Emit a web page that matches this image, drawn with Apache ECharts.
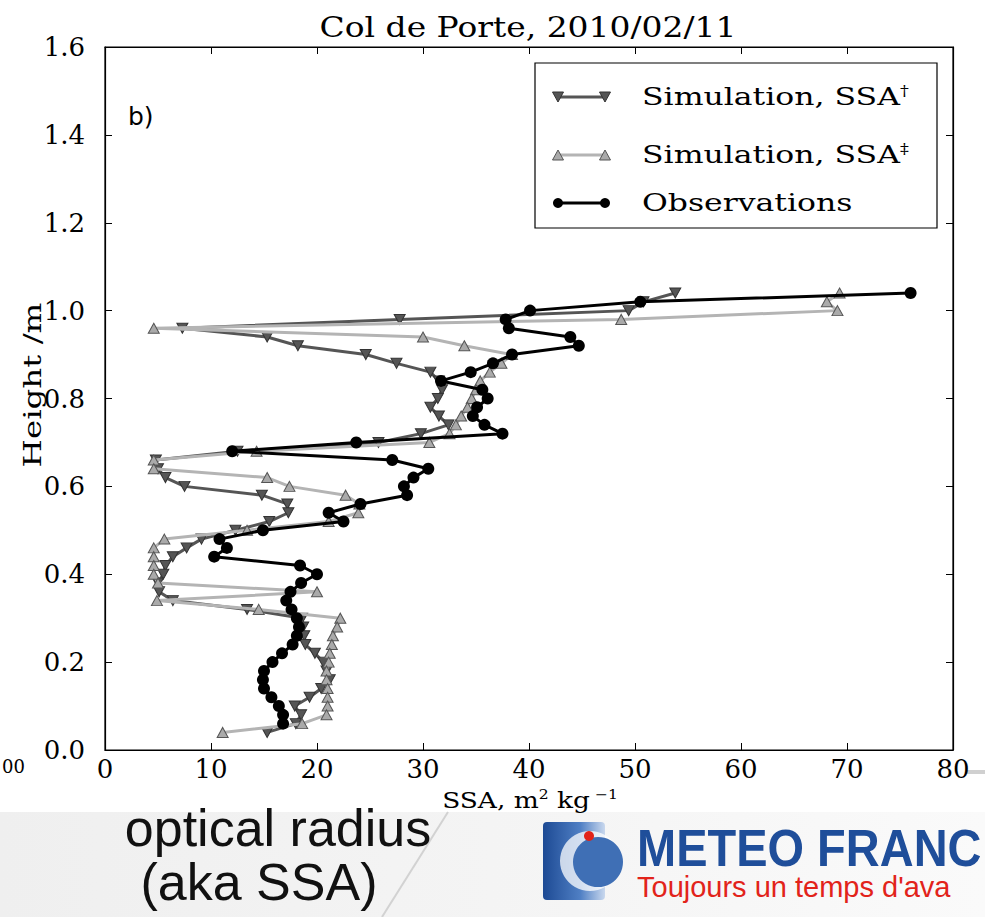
<!DOCTYPE html>
<html><head><meta charset="utf-8">
<script src="https://cdn.jsdelivr.net/npm/echarts@6/dist/echarts.min.js"></script>
<style>html,body{margin:0;padding:0;background:#fff}#c{width:985px;height:917px}</style>
</head><body><div id="c"></div>
<script>
// ---- data ----
const simHeights = [1.04,1.02,1.00,0.98,0.96,0.94,0.92,0.90,0.88,0.86,0.84,0.82,0.80,0.78,0.76,0.74,0.72,0.70,0.68,0.66,0.64,0.62,0.60,0.58,0.56,0.54,0.52,0.50,0.48,0.46,0.44,0.42,0.40,0.38,0.36,0.34,0.32,0.30,0.28,0.26,0.24,0.22,0.20,0.18,0.16,0.14,0.12,0.10,0.08,0.06,0.04];
const simDaggerSSA = [53.8,50.8,49.4,27.8,7.3,15.3,18.2,24.6,27.5,30.7,31.5,31.8,31.4,30.7,31.5,32.4,29.8,25.8,12.5,4.8,5.0,5.7,7.5,14.8,17.2,17.3,15.5,12.3,9.1,7.7,6.4,5.7,5.5,5.0,5.1,6.4,13.4,18.6,18.7,18.8,18.9,19.8,20.6,20.9,21.2,20.4,19.3,17.9,18.5,18.0,15.3];
const simDdaggerSSA = [69.3,68.1,69.1,48.7,4.6,30.0,33.9,38.4,37.4,36.3,35.4,35.0,34.6,34.2,33.6,33.1,32.5,30.6,14.3,4.6,4.6,15.3,17.4,22.7,24.0,23.9,21.1,13.4,5.6,4.6,4.6,4.6,4.6,5.0,20.0,4.9,14.5,22.2,21.9,21.5,21.4,21.2,21.1,20.9,20.9,21.0,21.0,21.0,20.9,18.6,11.1];
const obsHeights = [1.04,1.02,1.00,0.98,0.96,0.94,0.92,0.90,0.88,0.86,0.84,0.82,0.80,0.78,0.76,0.74,0.72,0.70,0.68,0.66,0.64,0.62,0.60,0.58,0.56,0.54,0.52,0.50,0.48,0.46,0.44,0.42,0.40,0.38,0.36,0.34,0.32,0.30,0.28,0.26,0.24,0.22,0.20,0.18,0.16,0.14,0.12,0.10,0.08,0.06];
const obsSSA = [76.0,50.5,40.1,37.8,38.1,43.9,44.7,38.4,36.6,34.5,31.7,35.6,36.1,35.1,34.7,35.8,37.5,23.7,12.0,27.1,30.5,29.1,28.2,28.5,24.1,21.1,22.5,14.9,10.8,11.5,10.3,18.4,20.0,18.5,17.5,17.1,17.6,18.1,18.3,18.1,17.7,16.7,15.8,15.0,14.9,15.0,15.7,16.4,16.8,16.8];
const seriesNames = ['Simulation, SSA†','Simulation, SSA‡','Observations'];
const titleText = 'Col de Porte, 2010/02/11';

const pairs = (xs, ys) => xs.map((x, i) => [x, ys[i]]);

const chart = echarts.init(document.getElementById('c'), null, {renderer: 'svg'});
const serif = "'DejaVu Serif', serif";
const sans = "'Liberation Sans', Arial, sans-serif";
const axisCommon = {
  type: 'value',
  axisLine: {show: true, onZero: false, lineStyle: {color: '#000', width: 1.2}},
  axisTick: {show: true, inside: true, length: 7, lineStyle: {color: '#000', width: 1}},
  splitLine: {show: false}
};
const GRID = {left: 105, top: 47, right: 32, bottom: 167};
const LZ = 20;

function tri(cx, cy, down, fill, stroke) {
  const h = 5, w = 5.5;
  const pts = down ? [[cx - w, cy - h], [cx + w, cy - h], [cx, cy + h]] : [[cx - w, cy + h], [cx + w, cy + h], [cx, cy - h]];
  return {type: 'polygon', z: LZ + 2, shape: {points: pts}, style: {fill: fill, stroke: stroke, lineWidth: 1}};
}
function legendRow(y, color, lw, kind, label, sup) {
  const els = [{type: 'line', z: LZ + 1, shape: {x1: 558, y1: y, x2: 605, y2: y}, style: {stroke: color, lineWidth: lw}}];
  if (kind === 'down') { els.push(tri(558, y, true, '#555', '#333'), tri(605, y, true, '#555', '#333')); }
  else if (kind === 'up') { els.push(tri(558, y, false, '#aaa', '#555'), tri(605, y, false, '#aaa', '#555')); }
  else { els.push({type: 'circle', z: LZ + 2, shape: {cx: 558, cy: y, r: 5}, style: {fill: '#000'}}, {type: 'circle', z: LZ + 2, shape: {cx: 605, cy: y, r: 5}, style: {fill: '#000'}}); }
  els.push({type: 'text', z: LZ + 2, x: 642, y: y, scaleX: 1.26, style: {
    text: sup ? '{a|' + label + '}{s|' + sup + '}' : '{a|' + label + '}',
    rich: {a: {fontFamily: serif, fontSize: 25, fill: '#000'}, s: {fontFamily: serif, fontSize: 14, fill: '#000', verticalAlign: 'top', padding: [0, 0, 12, 0]}},
    verticalAlign: 'middle'}});
  return els;
}

const option = {
  animation: false,
  backgroundColor: '#fff',
  grid: Object.assign({show: true, borderColor: '#000', borderWidth: 1.2, backgroundColor: 'transparent'}, GRID),
  xAxis: [
    Object.assign({}, axisCommon, {min: 0, max: 80, interval: 10, position: 'bottom',
      axisLabel: {fontFamily: serif, fontSize: 26, color: '#000', margin: 6, formatter: v => String(v)}}),
    Object.assign({}, axisCommon, {min: 0, max: 80, interval: 10, position: 'top', axisLabel: {show: false}})
  ],
  yAxis: [
    Object.assign({}, axisCommon, {min: 0, max: 1.6, interval: 0.2, position: 'left',
      axisLabel: {fontFamily: serif, fontSize: 26, color: '#000', margin: 20, formatter: v => v.toFixed(1)}}),
    Object.assign({}, axisCommon, {min: 0, max: 1.6, interval: 0.2, position: 'right', axisLabel: {show: false}})
  ],
  series: [
    {name: seriesNames[0], type: 'line', data: pairs(simDaggerSSA, simHeights), symbol: 'triangle', symbolRotate: 180, symbolSize: [11, 10],
      lineStyle: {color: '#555', width: 3}, itemStyle: {color: '#555', borderColor: '#333', borderWidth: 1}, z: 2},
    {name: seriesNames[1], type: 'line', data: pairs(simDdaggerSSA, simHeights), symbol: 'triangle', symbolSize: [11, 10],
      lineStyle: {color: '#b4b4b4', width: 3}, itemStyle: {color: '#aaa', borderColor: '#555', borderWidth: 1}, z: 3},
    {name: seriesNames[2], type: 'line', data: pairs(obsSSA, obsHeights), symbol: 'circle', symbolSize: 12,
      lineStyle: {color: '#000', width: 3}, itemStyle: {color: '#000'}, z: 4}
  ],
  graphic: [
    // bottom slide background
    {type: 'rect', shape: {x: 0, y: 812, width: 985, height: 105}, z: -10,
      style: {fill: new echarts.graphic.LinearGradient(0, 0, 1, 0, [{offset: 0, color: '#efefef'}, {offset: 0.5, color: '#f4f4f4'}, {offset: 1, color: '#fafafa'}])}},
    {type: 'line', shape: {x1: 448, y1: 812, x2: 382, y2: 917}, style: {stroke: '#d2d2d2', lineWidth: 2}, z: -9},
    {type: 'line', shape: {x1: 966, y1: 772, x2: 985, y2: 772}, style: {stroke: '#d0d0d0', lineWidth: 4}},
    // title
    {type: 'text', x: 528, y: 28, scaleX: 1.22, style: {text: titleText, fontFamily: serif, fontSize: 27, fill: '#000', align: 'center', verticalAlign: 'middle'}},
    // axis names
    {type: 'text', x: 530, y: 800, scaleX: 1.2, style: {text: '{a|SSA, m}{s|2}{a| kg}{s| −1}', rich: {a: {fontFamily: serif, fontSize: 22, fill: '#000'}, s: {fontFamily: serif, fontSize: 13, fill: '#000', verticalAlign: 'top', padding: [0, 0, 12, 0]}}, align: 'center', verticalAlign: 'middle'}},
    {type: 'text', x: 32, y: 385, rotation: Math.PI / 2, scaleX: 1.3, style: {text: 'Height /m', fontFamily: serif, fontSize: 25, fill: '#000', align: 'center', verticalAlign: 'middle'}},
    // panel label
    {type: 'text', x: 128, y: 116, style: {text: 'b)', fontFamily: "'DejaVu Sans', sans-serif", fontSize: 25, fill: '#000', verticalAlign: 'middle'}},
    // stray label from neighbouring panel
    {type: 'text', x: 2, y: 766, style: {text: '00', fontFamily: serif, fontSize: 18, fill: '#000', align: 'left', verticalAlign: 'middle'}},
    // legend
    {type: 'rect', z: LZ, shape: {x: 535, y: 63, width: 402, height: 165}, style: {fill: '#fff', stroke: '#000', lineWidth: 1.2}},
    ...legendRow(97, '#555', 3, 'down', 'Simulation, SSA', '†'),
    ...legendRow(155, '#b4b4b4', 3, 'up', 'Simulation, SSA', '‡'),
    ...legendRow(203, '#000', 3, 'dot', 'Observations', ''),
    // slide texts
    {type: 'text', x: 278, y: 828, style: {text: 'optical radius', fontFamily: sans, fontSize: 52, fill: '#111', align: 'center', verticalAlign: 'middle'}},
    {type: 'text', x: 259, y: 882, style: {text: '(aka SSA)', fontFamily: sans, fontSize: 52, fill: '#111', align: 'center', verticalAlign: 'middle'}},
    // logo
    {type: 'rect', shape: {x: 543, y: 822, width: 62, height: 78, r: 4},
      style: {fill: new echarts.graphic.LinearGradient(0, 0, 1, 0, [{offset: 0, color: '#1d4a94'}, {offset: 0.6, color: '#4f7fc4'}, {offset: 1, color: '#c9d8ee'}])}},
    {type: 'circle', shape: {cx: 590, cy: 861, r: 30}, style: {fill: 'rgba(255,255,255,0.75)'}},
    {type: 'circle', shape: {cx: 598, cy: 862, r: 25}, style: {fill: '#3f6fb5'}},
    {type: 'circle', shape: {cx: 589, cy: 836, r: 5}, style: {fill: '#e2231a'}},
    {type: 'text', x: 637, y: 848, scaleY: 1.12, style: {text: 'METEO FRANC', fontFamily: sans, fontWeight: 'bold', fontSize: 47, fill: '#1f4e9a', verticalAlign: 'middle'}},
    {type: 'text', x: 637, y: 887, style: {text: "Toujours un temps d'ava", fontFamily: sans, fontSize: 29, fill: '#e2231a', verticalAlign: 'middle'}}
  ]
};
chart.setOption(option);
</script>
</body></html>
